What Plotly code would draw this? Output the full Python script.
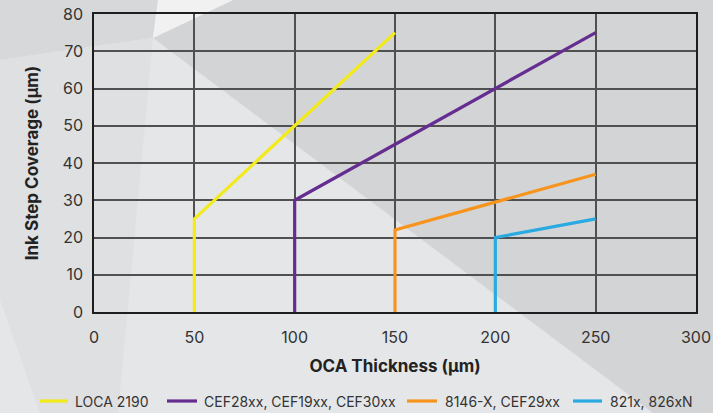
import plotly.graph_objects as go

series_names = ["LOCA 2190", "CEF28xx, CEF19xx, CEF30xx", "8146-X, CEF29xx", "821x, 826xN"]
loca_x = [50, 50, 150]
loca_y = [0, 25, 75]
cef_x = [100, 100, 250]
cef_y = [0, 30, 75]
x8146_x = [150, 150, 250]
x8146_y = [0, 22, 37]
x821_x = [200, 200, 250]
x821_y = [0, 20, 25]
colors = ["#f3ea1b", "#662d91", "#f7941d", "#29abe2"]

xs = [loca_x, cef_x, x8146_x, x821_x]
ys = [loca_y, cef_y, x8146_y, x821_y]

fig = go.Figure()
for name, x, y, c in zip(series_names, xs, ys, colors):
    fig.add_trace(go.Scatter(x=x, y=y, mode="lines", name=name,
                             line=dict(color=c, width=3.2), showlegend=False))

W, H = 713, 413
L, R, T, B = 94, 17, 14, 101
pw, ph = W - L - R, H - T - B

def P(px, py):
    return (px - L) / pw, 1 - (py - T) / ph

def poly(points, color):
    pts = [P(a, b) for a, b in points]
    path = "M " + " L ".join(f"{a:.4f},{b:.4f}" for a, b in pts) + " Z"
    fig.add_shape(type="path", path=path, xref="paper", yref="paper",
                  fillcolor=color, line=dict(width=0), layer="below")

# background facets
poly([(153, 38), (233, 0), (713, 0), (713, 413), (653, 413)], "#d3d4d6")
poly([(0, 0), (158, 0), (153, 38), (0, 60)], "#d7d8da")
poly([(158, 0), (153, 38), (233, 0)], "#f1f1f2")
poly([(0, 60), (153, 38), (137, 210), (118, 413), (40, 413), (0, 300)], "#dfe0e2")

# legend (manual, to match spacing)
leg_y = 401
leg_items = [(40, 68, 73), (167, 197, 202), (407, 437, 443), (573, 602, 608)]
for (x0, x1, xt), name, c in zip(leg_items, series_names, colors):
    a0, b0 = P(x0, leg_y)
    a1, _ = P(x1, leg_y)
    fig.add_shape(type="line", xref="paper", yref="paper", x0=a0, x1=a1, y0=b0, y1=b0,
                  line=dict(color=c, width=3.2))
    at, _ = P(xt, leg_y)
    fig.add_annotation(text=name, xref="paper", yref="paper", x=at, y=b0,
                       xanchor="left", yanchor="middle", showarrow=False,
                       font=dict(size=14, color="#333333"))

axis_common = dict(showline=True, mirror=True, linecolor="#1e1e1e", linewidth=1.5,
                   showgrid=True, gridcolor="#505050", gridwidth=1.5,
                   zeroline=False, ticks="outside", tickcolor="rgba(0,0,0,0)",
                   automargin=False,
                   tickfont=dict(size=16, color="#333333"))

fig.update_layout(
    width=W, height=H,
    margin=dict(l=L, r=R, t=T, b=B),
    paper_bgcolor="#e5e6e8",
    plot_bgcolor="rgba(0,0,0,0)",
    font=dict(family="Inter", color="#222222"),
    xaxis=dict(range=[0, 300], dtick=50, ticklen=10,
               title=dict(text="<b>OCA Thickness (µm)</b>", font=dict(size=17, color="#222222"), standoff=14),
               **axis_common),
    yaxis=dict(range=[0, 80], dtick=10, ticklen=6,
               title=dict(text="<b>Ink Step Coverage (µm)</b>", font=dict(size=17, color="#222222"), standoff=20),
               **axis_common),
    showlegend=False,
)

fig.write_html("out.html", config={"displayModeBar": False},
               post_script="document.body.style.margin='0';document.body.style.overflow='hidden';")
